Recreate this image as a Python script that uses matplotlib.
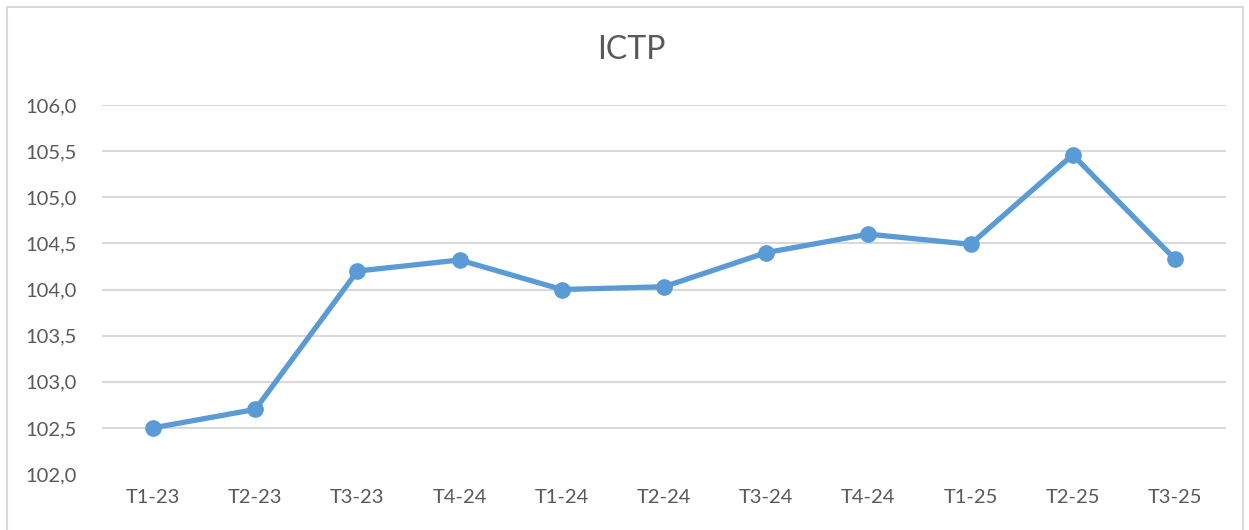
import matplotlib.pyplot as plt
from matplotlib.patches import Rectangle
from matplotlib.ticker import FuncFormatter

# quarter labels and ICTP values
quarters = ['T1-23', 'T2-23', 'T3-23', 'T4-24', 'T1-24', 'T2-24',
            'T3-24', 'T4-24', 'T1-25', 'T2-25', 'T3-25']
ictp = [102.5, 102.7, 104.2, 104.32, 104.0, 104.03,
        104.4, 104.6, 104.49, 105.46, 104.33]
yticks = [102.0, 102.5, 103.0, 103.5, 104.0, 104.5, 105.0, 105.5, 106.0]

plt.rcParams['font.family'] = ['Lato', 'DejaVu Sans']
text_color = '#595959'
blue = '#5B9BD5'

fig = plt.figure(figsize=(12.49, 5.30), dpi=100)
fig.patches.append(Rectangle((7 / 1249, -0.1), 1236 / 1249, 1.1 - 7 / 530,
                             transform=fig.transFigure, fill=False,
                             edgecolor='#D9D9D9', linewidth=1.5))

ax = fig.add_axes([102 / 1249, 1 - 474 / 530, 1124 / 1249, 369 / 530])
x = list(range(len(quarters)))
ax.plot(x, ictp, color=blue, linewidth=3.8, marker='o', markersize=11,
        solid_capstyle='round')

ax.set_xlim(-0.5, len(quarters) - 0.5)
ax.set_ylim(102, 106)
ax.set_xticks(x)
ax.set_xticklabels(quarters)
ax.set_yticks(yticks)
ax.yaxis.set_major_formatter(FuncFormatter(lambda v, p: f'{v:.1f}'.replace('.', ',')))

for v in yticks[1:]:
    ax.axhline(v, color='#D9D9D9', linewidth=1.5, zorder=0)

for s in ax.spines.values():
    s.set_visible(False)
ax.tick_params(length=0, labelsize=14.5, colors=text_color)
ax.tick_params(axis='y', pad=18)
ax.tick_params(axis='x', pad=11)

fig.text(631 / 1249, 1 - 50 / 530, 'ICTP', ha='center', va='center',
         fontsize=23, color=text_color)

fig.savefig('out.png', dpi=100)
